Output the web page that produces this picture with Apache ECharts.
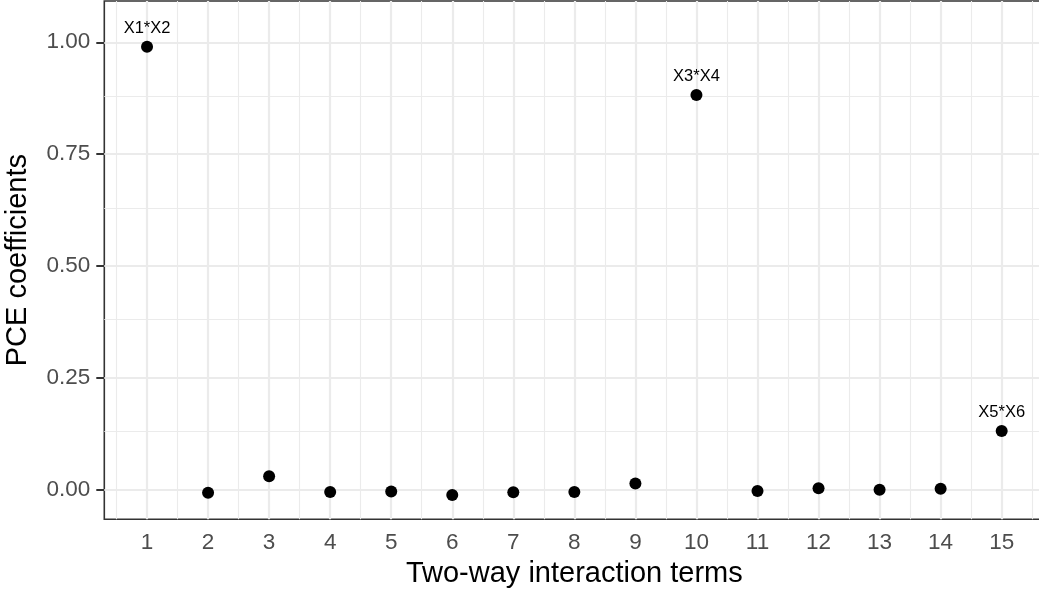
<!DOCTYPE html>
<html>
<head>
<meta charset="utf-8">
<title>PCE coefficients</title>
<script src="https://cdn.jsdelivr.net/npm/echarts@6/dist/echarts.min.js"></script>
<style>
  html, body { margin: 0; padding: 0; background: #ffffff; }
  #chart { width: 1039px; height: 593px; }
</style>
</head>
<body>
<div id="chart"></div>
<script>
// Two-way interaction terms and their PCE coefficients
const terms = [1, 2, 3, 4, 5, 6, 7, 8, 9, 10, 11, 12, 13, 14, 15];
const coefs = [0.990, -0.007, 0.030, -0.005, -0.004, -0.012, -0.006, -0.005, 0.014, 0.882, -0.003, 0.003, 0.000, 0.002, 0.131];
const termLabels = ['X1*X2', '', '', '', '', '', '', '', '', 'X3*X4', '', '', '', '', 'X5*X6'];
const yTicks = [0, 0.25, 0.5, 0.75, 1];
const xTicks = terms;

const FONT = '"Liberation Sans", Arial, Helvetica, sans-serif';
const GRID_COLOR = '#EBEBEB';
const INK = '#333333';

// Major grid lines sit on the ticks, minor ones halfway between them
const xMinor = xTicks.map(v => v - 0.5).concat([xTicks[xTicks.length - 1] + 0.5]);
const yMinor = yTicks.slice(1).map((v, i) => (v + yTicks[i]) / 2);

const minorStyle = { color: GRID_COLOR, width: 1.1, type: 'solid' };
const majorStyle = { color: GRID_COLOR, width: 2.2, type: 'solid' };

const gridLines = []
  .concat(xMinor.map(v => ({ xAxis: v, lineStyle: minorStyle })))
  .concat(yMinor.map(v => ({ yAxis: v, lineStyle: minorStyle })))
  .concat(xTicks.map(v => ({ xAxis: v, lineStyle: majorStyle })))
  .concat(yTicks.map(v => ({ yAxis: v, lineStyle: majorStyle })));

const chart = echarts.init(document.getElementById('chart'), null, { renderer: 'canvas' });

chart.setOption({
  animation: false,
  backgroundColor: '#ffffff',
  textStyle: { fontFamily: FONT },
  grid: {
    // panel border drawn above the grid lines
    z: 3,
    left: 104.3, top: 1, right: -5.4, bottom: 73.7,
    containLabel: false, outerBoundsMode: 'none',
    show: true, backgroundColor: 'transparent', borderColor: INK, borderWidth: 1.6
  },
  xAxis: {
    type: 'value', min: 0.3, max: 15.7,
    name: 'Two-way interaction terms', nameLocation: 'middle', nameGap: 38,
    nameTextStyle: { fontSize: 29, color: '#000000', fontFamily: FONT },
    splitLine: { show: false },
    minorTick: { show: false },
    minorSplitLine: { show: false },
    axisLine: { show: false },
    axisTick: { show: true, customValues: xTicks, length: 8, inside: false, lineStyle: { color: INK, width: 2 } },
    axisLabel: { customValues: xTicks, margin: 12, fontSize: 22.5, color: '#4D4D4D', fontFamily: FONT, formatter: v => String(v) }
  },
  yAxis: {
    type: 'value', min: -0.0662, max: 1.0923,
    name: 'PCE coefficients', nameLocation: 'middle', nameGap: 72, nameRotate: 90,
    nameTextStyle: { fontSize: 29, color: '#000000', fontFamily: FONT },
    splitLine: { show: false },
    minorTick: { show: false },
    minorSplitLine: { show: false },
    axisLine: { show: false },
    axisTick: { show: true, customValues: yTicks, length: 8, inside: false, lineStyle: { color: INK, width: 2 } },
    axisLabel: { customValues: yTicks, margin: 14, fontSize: 22.5, color: '#4D4D4D', fontFamily: FONT, formatter: v => v.toFixed(2) }
  },
  series: [
    {
      // panel grid, kept inside the plotting area
      type: 'line', data: [], z: 1, silent: true, clip: true,
      markLine: {
        silent: true, symbol: ['none', 'none'], label: { show: false },
        emphasis: { disabled: true }, animation: false, data: gridLines
      }
    },
    {
      type: 'scatter', z: 5, symbol: 'circle', symbolSize: 12,
      itemStyle: { color: '#000000', opacity: 1 },
      data: terms.map((t, i) => ({ value: [t, coefs[i]], name: termLabels[i] })),
      label: {
        show: true, position: 'top', distance: 4, fontSize: 16.5,
        color: '#000000', fontFamily: FONT, formatter: p => p.name
      }
    }
  ]
});
</script>
</body>
</html>
